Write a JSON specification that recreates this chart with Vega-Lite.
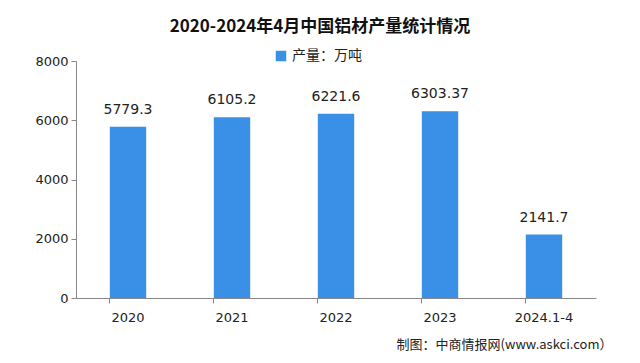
{
  "$schema": "https://vega.github.io/schema/vega-lite/v6.json",
  "autosize": "none",
  "width": 520,
  "height": 237,
  "padding": {"left": 76, "top": 61, "right": 44, "bottom": 65},
  "background": "white",
  "title": {
    "text": "2020-2024年4月中国铝材产量统计情况",
    "anchor": "middle",
    "dx": -16,
    "offset": 13,
    "font": "Noto Sans CJK SC",
    "fontSize": 17,
    "fontWeight": "bold",
    "color": "#111111"
  },
  "config": {
    "view": {"stroke": null},
    "font": "Noto Sans CJK SC"
  },
  "data": {
    "values": [
      {"year": "2020", "value": 5779.3, "label": "5779.3", "series": "产量：万吨"},
      {"year": "2021", "value": 6105.2, "label": "6105.2", "series": "产量：万吨"},
      {"year": "2022", "value": 6221.6, "label": "6221.6", "series": "产量：万吨"},
      {"year": "2023", "value": 6303.37, "label": "6303.37", "series": "产量：万吨"},
      {"year": "2024.1-4", "value": 2141.7, "label": "2141.7", "series": "产量：万吨"}
    ]
  },
  "encoding": {
    "x": {
      "field": "year",
      "type": "nominal",
      "sort": null,
      "scale": {"paddingInner": 0.65, "paddingOuter": 0.325},
      "axis": {
        "title": "制图：中商情报网(www.askci.com）",
        "titleFont": "Noto Sans CJK SC",
        "titleFontSize": 13,
        "titleFontWeight": "normal",
        "titleColor": "#222222",
        "titleAnchor": "end",
        "titleAlign": "right",
        "titleX": 536,
        "titleY": 40,
        "labelAngle": 0,
        "labelFont": "DejaVu Sans",
        "labelFontSize": 13,
        "labelColor": "#222222",
        "labelPadding": 8,
        "domainColor": "#888888",
        "tickColor": "#888888",
        "tickSize": 5,
        "bandPosition": 0,
        "grid": false
      }
    }
  },
  "layer": [
    {
      "mark": {"type": "bar", "color": "#3a8fe6"},
      "encoding": {
        "y": {
          "field": "value",
          "type": "quantitative",
          "scale": {"domain": [0, 8000]},
          "axis": {
            "title": null,
            "values": [0, 2000, 4000, 6000, 8000],
            "format": "d",
            "labelFont": "DejaVu Sans",
            "labelFontSize": 13,
            "labelColor": "#222222",
            "labelPadding": 3,
            "domainColor": "#888888",
            "tickColor": "#888888",
            "tickSize": 5,
            "grid": false
          }
        },
        "color": {
          "field": "series",
          "type": "nominal",
          "scale": {"range": ["#3a8fe6"]},
          "legend": {
            "title": null,
            "orient": "none",
            "legendX": 198,
            "legendY": -12,
            "symbolType": "square",
            "symbolSize": 110,
            "labelFont": "Noto Sans CJK SC",
            "labelFontSize": 14,
            "labelColor": "#222222",
            "labelOffset": 4
          }
        }
      }
    },
    {
      "mark": {"type": "text", "baseline": "bottom", "dy": -10, "font": "DejaVu Sans", "fontSize": 14, "color": "#222222"},
      "encoding": {
        "y": {"field": "value", "type": "quantitative"},
        "text": {"field": "label"}
      }
    }
  ]
}
